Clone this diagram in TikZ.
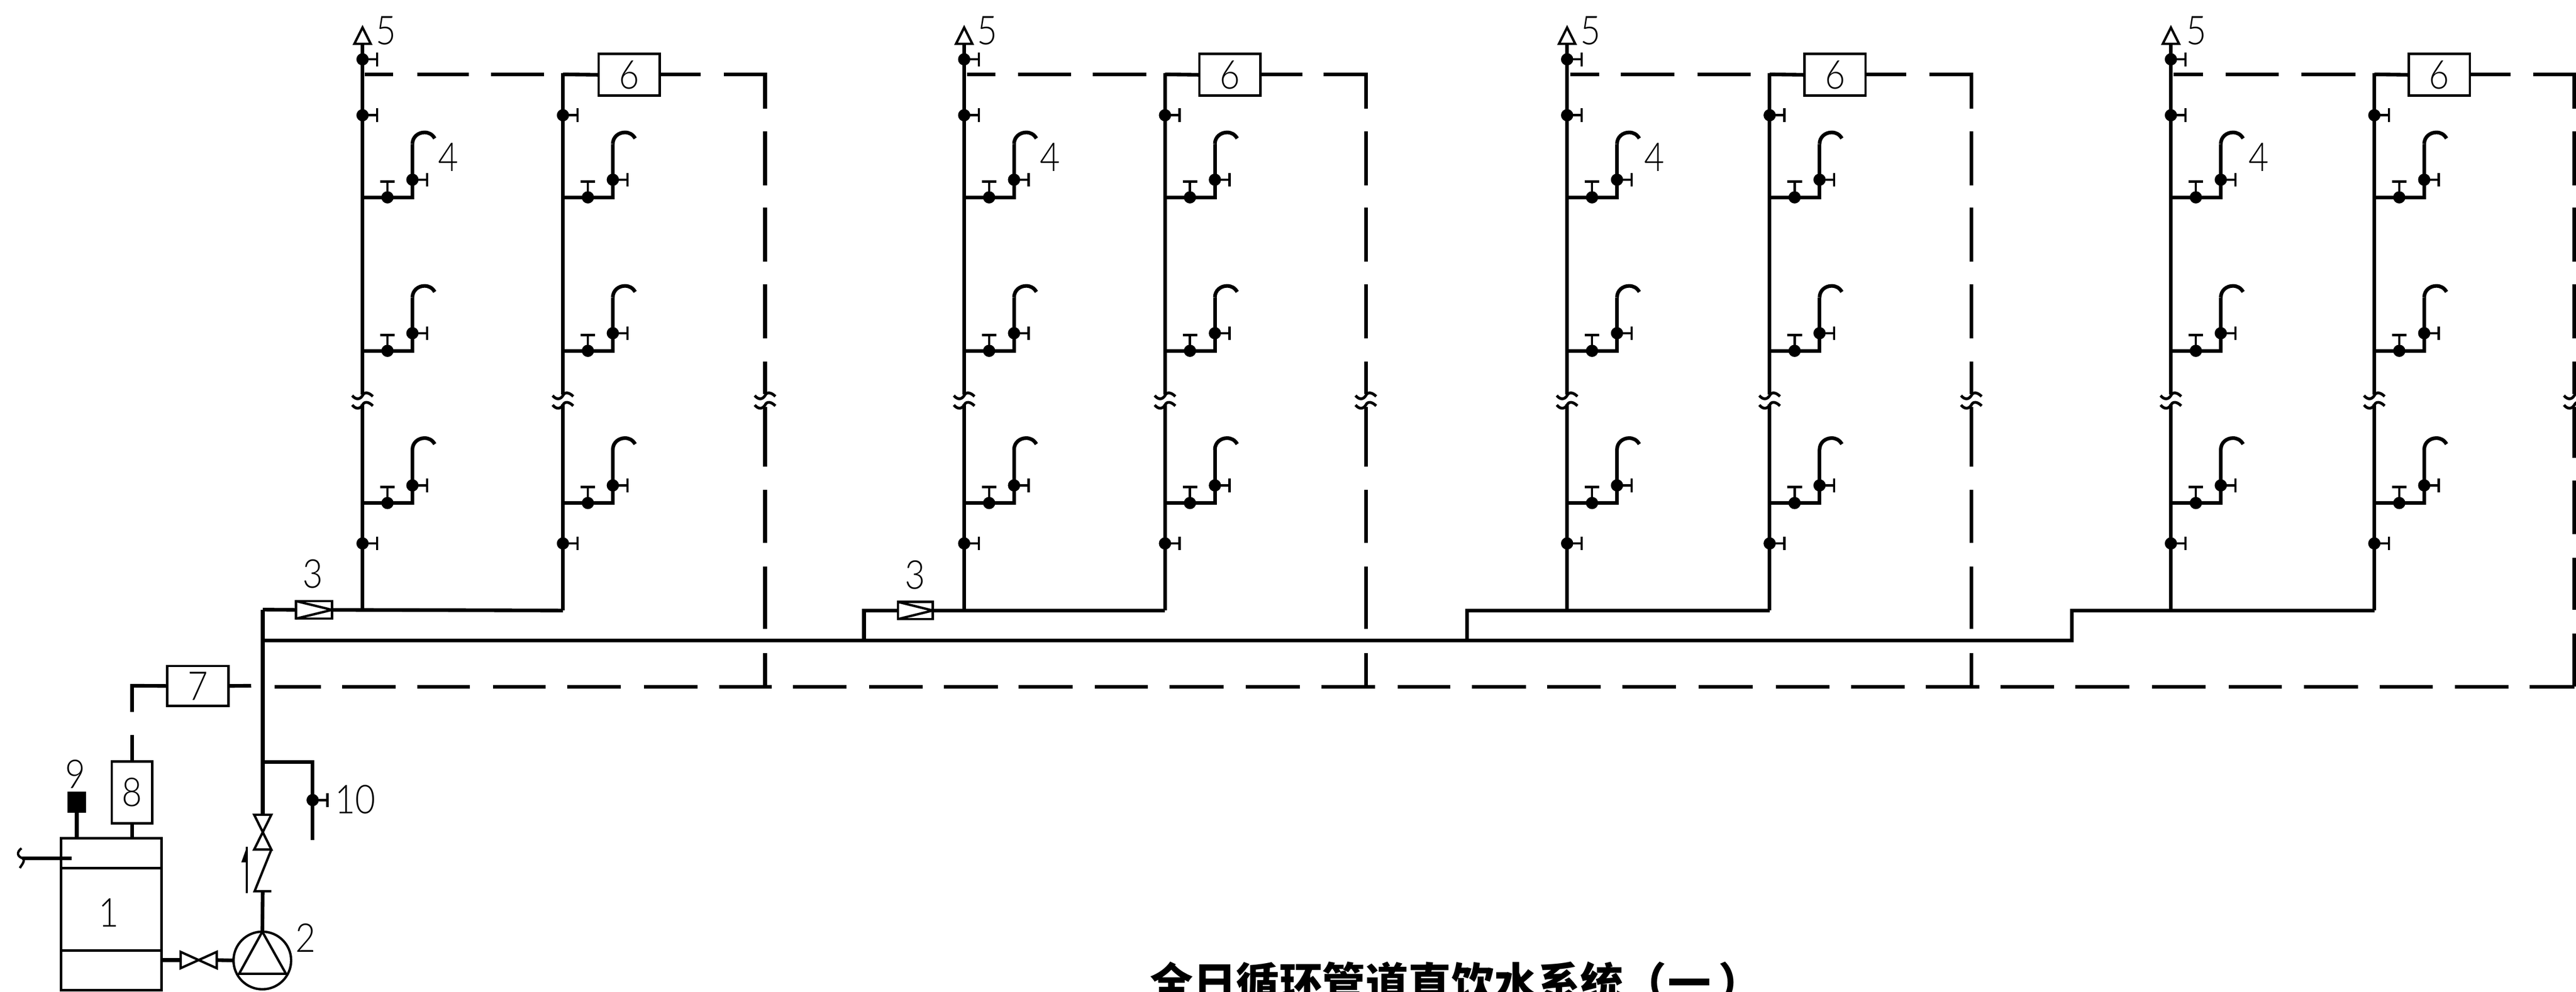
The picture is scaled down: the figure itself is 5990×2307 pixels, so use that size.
\documentclass[tikz,border=0pt]{standalone}
\usepackage{fontspec}
\newfontfamily\cjk{Noto Sans CJK SC}
\newfontfamily\digfont[FakeStretch=0.88]{Lato Light}
\tikzset{
  pipe/.style={line width=1.7pt,line join=miter},
  fine/.style={line width=1.1pt},
  boxn/.style={draw,line width=1.1pt,rectangle,inner sep=0pt,outer sep=0pt,font=\digfont\fontsize{18.5}{18.5}\selectfont},
  dotn/.style={circle,fill=black,inner sep=0pt,outer sep=0pt,minimum size=5.7pt},
  dig/.style={inner sep=0pt,outer sep=0pt,font=\digfont\fontsize{18.5}{18.5}\selectfont},
  bar/.style={line width=1.1pt}
}
% valve with stem to the right: name, x, y
\newcommand\valveR[3]{%
  \node[dotn] (#1) at (#2,#3) {};
  \coordinate (#1e) at (#2+34,#3);
  \draw[fine] (#1.center) -- (#1e);
  \draw[bar] ([yshift=3.2pt]#1e) -- ([yshift=-3.2pt]#1e);
}
% valve with stem upward: name, x, y
\newcommand\valveU[3]{%
  \node[dotn] (#1) at (#2,#3) {};
  \coordinate (#1e) at (#2,#3-37);
  \draw[fine] (#1.center) -- (#1e);
  \draw[bar] ([xshift=-3.4pt]#1e) -- ([xshift=3.4pt]#1e);
}
% break mark: x, y of upper wave
\newcommand\brkmark[2]{%
  \draw[line width=1.3pt] (#1-24,#2) .. controls (#1-16,#2+10) and (#1-6,#2+10) .. (#1,#2) .. controls (#1+4,#2-9) and (#1+14,#2-8) .. (#1+24,#2+2);
  \draw[line width=1.3pt] (#1-24,#2+22) .. controls (#1-16,#2+32) and (#1-6,#2+32) .. (#1,#2+22) .. controls (#1+4,#2+13) and (#1+14,#2+14) .. (#1+24,#2+24);
}
% faucet: name, riser x, branch y
\newcommand\faucet[3]{%
  \coordinate (#1r) at (#2,#3);
  \coordinate (#1c) at (#2+116,#3);
  \coordinate (#1s) at (#2+116,#3-124);
  \draw[pipe] (#1r) -- (#1c) -- (#1s);
  \draw[pipe] (#1s) .. controls (#2+116,#3-141) and (#2+130,#3-151) .. (#2+144,#3-151) .. controls (#2+154,#3-151) and (#2+162,#3-147) .. (#2+168,#3-137);
  \valveU{#1h}{#2+58}{#3}
  \valveR{#1v}{#2+116}{#3-41}
}
% column: id, A, B, R, box left, top dashes, x of 4, x of 5, vertical lower dashes
\newcommand\column[9]{%
  \coordinate (at#1) at (#2,102);
  \coordinate (am#1) at (#2,918);
  \coordinate (an#1) at (#2,940);
  \coordinate (ab#1) at (#2,1420);
  \draw[pipe] (at#1) -- (am#1);
  \draw[pipe] (an#1) -- (ab#1);
  \coordinate (bt#1) at (#3,170);
  \coordinate (bm#1) at (#3,918);
  \coordinate (bn#1) at (#3,940);
  \coordinate (bb#1) at (#3,1420);
  \draw[pipe] (bt#1) -- (bm#1);
  \draw[pipe] (bn#1) -- (bb#1);
  \draw[fine,fill=white] (#2-19,102) -- (#2,64) -- (#2+19,102) -- cycle;
  \node[dig] (five#1) at (#8,71) {5};
  \node[dig] (four#1) at (#7,365) {4};
  \valveR{vt#1}{#2}{138}
  \valveR{vu#1}{#2}{268}
  \valveR{vl#1}{#2}{1264}
  \valveR{wu#1}{#3}{268}
  \valveR{wl#1}{#3}{1264}
  \brkmark{#2}{920}
  \brkmark{#3}{920}
  \brkmark{#4}{920}
  \foreach \r/\y in {1/459,2/816,3/1170}{
    \faucet{fa#1\r}{#2}{\y}
    \faucet{fb#1\r}{#3}{\y}
  }
  \node[boxn,minimum width=28.4pt,minimum height=19.4pt] (six#1) at (#5+71,174) {6};
  \coordinate (sl#1) at (#3,173);
  \draw[pipe] (sl#1) -- (six#1.west);
  \foreach \a/\b in {#6}{\draw[pipe] (\a,173) -- (\b,173);}
  \foreach \a/\b in {#9}{\draw[pipe] (#4,\a) -- (#4,\b);}
}
\begin{document}
\begin{tikzpicture}[x=0.2pt,y=-0.2pt]
\useasboundingbox (0,0) rectangle (5990,2307);
\clip (0,0) rectangle (5990,2307);

\column{1}{843}{1309}{1779}{1392}{848/914,970/1090,1142/1265,1533/1629}{1042}{898}{306/431,483/608,661/787,841/916,947/1085,1139/1263,1318/1463,1519/1597}
\column{2}{2242}{2709}{3176}{2789}{2249/2315,2367/2491,2541/2666,2931/3028}{2442}{2296}{306/431,483/608,661/787,841/916,947/1085,1139/1263,1318/1463,1519/1597}
\column{3}{3644}{4115}{4584}{4196}{3651/3718,3769/3894,3947/4071,4338/4433}{3847}{3699}{306/431,483/608,661/787,841/916,947/1085,1139/1263,1318/1463,1519/1597}
\column{4}{5048}{5521}{5986}{5601}{5054/5122,5175/5299,5352/5477,5743/5838}{5252}{5107}{306/431,483/608,661/787,841/916,947/1065,1118/1242,1297/1418,1474/1597}

% corners of the dashed loop
\coordinate (c1a) at (1683,173); \coordinate (c1b) at (1779,173); \coordinate (c1c) at (1779,253);
\coordinate (c2a) at (3078,173); \coordinate (c2b) at (3176,173); \coordinate (c2c) at (3176,253);
\coordinate (c3a) at (4486,173); \coordinate (c3b) at (4584,173); \coordinate (c3c) at (4584,253);
\coordinate (c4a) at (5891,173); \coordinate (c4b) at (5986,173); \coordinate (c4c) at (5986,253);
\draw[pipe] (c1a) -- (c1b) -- (c1c);
\draw[pipe] (c2a) -- (c2b) -- (c2c);
\draw[pipe] (c3a) -- (c3b) -- (c3c);
\draw[pipe] (c4a) -- (c4b) -- (c4c);

% dashed return along the bottom
\foreach \a/\b in {639/746,796/920,970/1093,1146/1269,1319/1444,1497/1622,1672/1795,1844/1968,2021/2145,2195/2320,2369/2494,2546/2669,2720/2845,2897/3022,3073/3198,3250/3372,3423/3548,3597/3722,3772/3897,3950/4075,4129/4254,4304/4429,4478/4603,4652/4776,4826/4951,5004/5129,5183/5306,5358/5483,5533/5657,5708/5833,5882/5986}
  {\draw[pipe] (\a,1597) -- (\b,1597);}

% tank and its fittings
\node[draw,line width=1.2pt,minimum width=46.8pt,minimum height=70.6pt,inner sep=0pt,outer sep=0pt] (tank) at (259,2126.5) {};
\coordinate (t1l) at (142,2019); \coordinate (t1r) at (376,2019);
\coordinate (t2l) at (142,2211); \coordinate (t2r) at (376,2211);
\draw[fine] (t1l) -- (t1r);
\draw[fine] (t2l) -- (t2r);
\node[dig] (one) at (253,2123) {1};
\coordinate (inl) at (52,1996); \coordinate (inr) at (167,1996);
\draw[pipe] (inl) -- (inr);
\draw[fine] (50,1973) .. controls (38,1982) and (40,1992) .. (52,1996) .. controls (60,2000) and (52,2010) .. (46,2019);
\node[fill=black,minimum width=8.6pt,minimum height=10pt,inner sep=0pt,outer sep=0pt] (nine) at (178.5,1866) {};
\coordinate (ninet) at (178.5,1950);
\draw[pipe] (nine) -- (ninet);
\node[dig] (ninel) at (175,1801) {9};
\node[boxn,minimum width=18.8pt,minimum height=28.8pt] (eight) at (307,1843) {8};
\coordinate (eightt) at (307,1950);
\draw[pipe] (eight) -- (eightt);
\coordinate (e1) at (307,1710);
\draw[pipe] (eight) -- (e1);
\node[boxn,minimum width=28.4pt,minimum height=18.6pt] (seven) at (460,1595.5) {7};
\coordinate (e2) at (307,1656); \coordinate (e3) at (307,1595);
\draw[pipe] (e2) -- (e3) -- (seven.west);
\coordinate (e4) at (584,1595);
\draw[pipe] (seven.east) -- (e4);

% pump and suction valve
\node[draw,circle,line width=1.1pt,minimum size=26.8pt,inner sep=0pt,outer sep=0pt] (pump) at (610,2234) {};
\coordinate (p1) at (556,2265); \coordinate (p2) at (665,2265);
\draw[fine] (pump.north) -- (p1) -- (p2) -- cycle;
\node[dig] (two) at (711,2181) {2};
\coordinate (s1) at (420,2233); \coordinate (s2) at (504,2233);
\draw[pipe] (tank.east |- s1) -- (s1);
\draw[pipe] (s2) -- (pump.west);
\draw[fine] (420,2214) -- (504,2252) -- (504,2214) -- (420,2252) -- cycle;

% riser from pump
\coordinate (r0) at (611,1418);
\coordinate (r1) at (611,1895);
\draw[pipe] (r0) -- (r1);
\draw[fine] (591,1895) -- (631,1895) -- (591,1976) -- (631,1976) -- cycle;
\draw[fine] (631,1976) -- (592,2073) -- (631,2073);
\coordinate (r2) at (611,2073);
\draw[pipe] (r2) -- (pump.north);
\coordinate (fa) at (574,2077); \coordinate (fb) at (574,1970);
\draw[fine] (fa) -- (fb);
\fill (574,1970) -- (574,2006) -- (561,2006) -- cycle;

% branch 10
\coordinate (b0) at (611,1772); \coordinate (b1) at (727,1772); \coordinate (b2) at (727,1954);
\draw[pipe] (b0) -- (b1) -- (b2);
\valveR{vten}{727}{1861}
\node[dig] (ten) at (826,1859) {10};

% supply main with its steps
\coordinate (m0) at (611,1490); \coordinate (m4) at (4818,1490); \coordinate (m4u) at (4818,1420);
\draw[pipe] (m0) -- (m4) -- (m4u) -- (bb4);
\node[boxn,minimum width=16.8pt,minimum height=8.2pt] (chka) at (730,1418.5) {};
\draw[fine] (chka.north west) -- (chka.east) -- (chka.south west);
\draw[pipe] (r0) -- (chka.west);
\draw[pipe] (chka.east) -- (bb1);
\node[dig] (threea) at (728,1335) {3};
\coordinate (m2) at (2009,1490); \coordinate (m2u) at (2009,1420);
\node[boxn,minimum width=16.2pt,minimum height=8pt] (chkb) at (2128.5,1420) {};
\draw[fine] (chkb.north west) -- (chkb.east) -- (chkb.south west);
\draw[pipe] (m2) -- (m2u) -- (chkb.west);
\draw[pipe] (chkb.east) -- (bb2);
\node[dig] (threeb) at (2128,1337) {3};
\coordinate (m3) at (3411,1490); \coordinate (m3u) at (3411,1420);
\draw[pipe] (m3) -- (m3u) -- (bb3);

% title
\node[anchor=base west,inner sep=0pt,outer sep=0pt,font=\cjk\bfseries\fontsize{20}{20}\selectfont] (title) at (2675,2323) {全日循环管道直饮水系统（\kern0.6pt 一\kern3.5pt ）};
\end{tikzpicture}
\end{document}
